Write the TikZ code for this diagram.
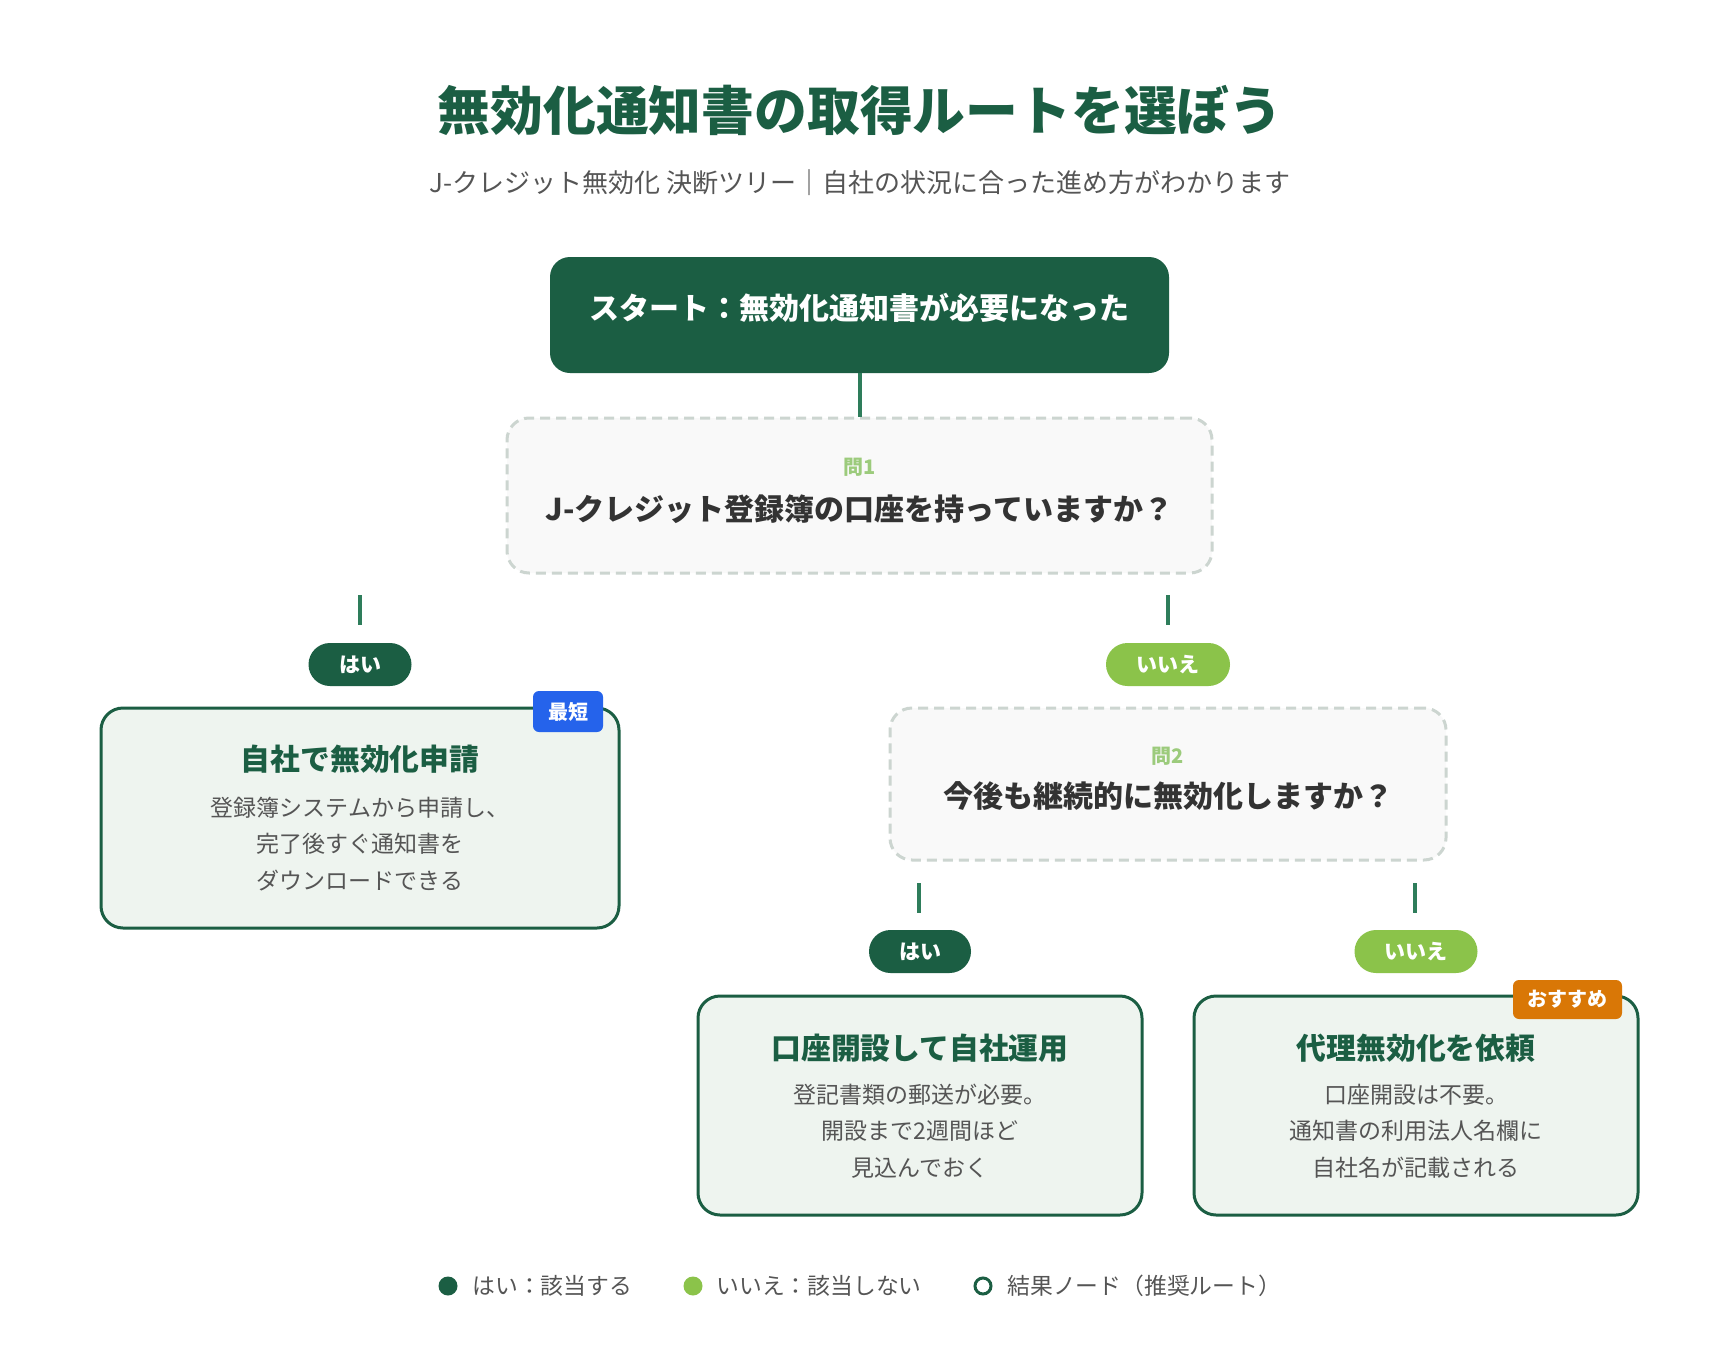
\documentclass[tikz,border=0pt]{standalone}
\usepackage{fontspec}
\setmainfont{Noto Sans CJK JP}
\definecolor{dg}{HTML}{1B5E43}
\definecolor{lg}{HTML}{8BC34A}
\definecolor{conn}{HTML}{2E7D5B}
\definecolor{qlab}{HTML}{9CCB7C}
\definecolor{dashc}{HTML}{CCD5D0}
\definecolor{qfill}{HTML}{F9F9F9}
\definecolor{rfill}{HTML}{EEF4EF}
\definecolor{bodyc}{HTML}{555555}
\definecolor{qtxt}{HTML}{333333}
\definecolor{blueb}{HTML}{2563EB}
\definecolor{orab}{HTML}{D97706}
\tikzset{
  startbox/.style={fill=dg, rounded corners=10pt, minimum width=309.5pt, minimum height=58pt, inner sep=0pt},
  starttxt/.style={text=white, font=\fontsize{15}{18}\selectfont\bfseries, inner sep=0pt},
  qbox/.style={draw=dashc, line width=1.5pt, dash pattern=on 5pt off 3pt, fill=qfill, rounded corners=11pt, inner sep=0pt},
  qlabel/.style={text=qlab, font=\fontsize{10}{12}\selectfont\bfseries, inner sep=0pt},
  qtext/.style={text=qtxt, font=\fontsize{15}{18}\selectfont\bfseries, inner sep=0pt},
  conn/.style={draw=conn, line width=2pt},
  pill/.style={rounded corners=10.75pt, minimum height=21.5pt, inner sep=0pt, text=white, font=\fontsize{10.5}{12}\selectfont\bfseries},
  yespill/.style={pill, fill=dg},
  nopill/.style={pill, fill=lg},
  rbox/.style={draw=dg, line width=1.5pt, fill=rfill, rounded corners=11pt, inner sep=0pt},
  rtitle/.style={text=dg, font=\fontsize{14.9}{18}\selectfont\bfseries, inner sep=0pt},
  rbody/.style={text=bodyc, font=\fontsize{11.5}{18.2}\selectfont, align=center, inner sep=0pt},
  badge/.style={rounded corners=3pt, inner sep=0pt, text=white, font=\fontsize{10}{12}\selectfont\bfseries},
  legtxt/.style={text=bodyc, font=\fontsize{11.4}{13}\selectfont, anchor=west, inner sep=0pt},
}
\begin{document}
\begin{tikzpicture}[x=0.5pt, y=-0.5pt]
\useasboundingbox[fill=white] (0,0) rectangle (1720,1360);

% title
\node[text=dg, font=\fontsize{26.4}{30}\selectfont\bfseries, inner sep=0pt] (title) at (860,110) {無効化通知書の取得ルートを選ぼう};
\node[text=bodyc, font=\fontsize{13}{15}\selectfont, inner sep=0pt] (subtitle) at (860,183) {J-クレジット無効化 決断ツリー｜自社の状況に合った進め方がわかります};

% start
\node[startbox] (start) at (859.5,315) {};
\node[starttxt] (starttext) at ([yshift=3.5pt]start.center) {スタート：無効化通知書が必要になった};

% Q1
\node[qbox, minimum width=352.5pt, minimum height=77.5pt] (q1) at (859.5,495.5) {};
\node[qlabel] (q1lab) at (859.5,467) {問1};
\node[qtext] (q1txt) at (859.5,509) {J-クレジット登録簿の口座を持っていますか？};
\draw[conn] (start.south) -- (q1.north);

% stubs from Q1
\coordinate (s1a) at (360,595); \coordinate (s1b) at (360,625);
\coordinate (s2a) at (1168,595); \coordinate (s2b) at (1168,625);
\draw[conn] (s1a) -- (s1b);
\draw[conn] (s2a) -- (s2b);

% pills level 1
\node[yespill, minimum width=51.5pt] (yes1) at (360,664.5) {はい};
\node[nopill, minimum width=62pt] (no1) at (1168,664.5) {いいえ};

% result 1
\node[rbox, minimum width=259pt, minimum height=110pt] (r1) at (360,818) {};
\node[badge, fill=blueb, minimum width=35pt, minimum height=20.5pt] (b1) at (568,711.5) {最短};
\node[rtitle] (r1t) at (360,759) {自社で無効化申請};
\node[rbody] (r1b) at (360,844) {登録簿システムから申請し、\\完了後すぐ通知書を\\ダウンロードできる};

% Q2
\node[qbox, minimum width=278pt, minimum height=76pt] (q2) at (1168,784) {};
\node[qlabel] (q2lab) at (1168,756) {問2};
\node[qtext] (q2txt) at (1168,796) {今後も継続的に無効化しますか？};

% stubs from Q2
\coordinate (s3a) at (919,883); \coordinate (s3b) at (919,913);
\coordinate (s4a) at (1415,883); \coordinate (s4b) at (1415,913);
\draw[conn] (s3a) -- (s3b);
\draw[conn] (s4a) -- (s4b);

% pills level 2
\node[yespill, minimum width=51pt] (yes2) at (920,951.5) {はい};
\node[nopill, minimum width=61.5pt] (no2) at (1416,951.5) {いいえ};

% result 2
\node[rbox, minimum width=222pt, minimum height=109.5pt] (r2) at (920,1105.5) {};
\node[rtitle] (r2t) at (920,1048) {口座開設して自社運用};
\node[rbody] (r2b) at (920,1131) {登記書類の郵送が必要。\\開設まで2週間ほど\\見込んでおく};

% result 3
\node[rbox, minimum width=222pt, minimum height=109.5pt] (r3) at (1416,1105.5) {};
\node[badge, fill=orab, minimum width=54.5pt, minimum height=19.5pt] (b3) at (1567.5,999.5) {おすすめ};
\node[rtitle] (r3t) at (1416,1048) {代理無効化を依頼};
\node[rbody] (r3b) at (1416,1131) {口座開設は不要。\\通知書の利用法人名欄に\\自社名が記載される};

% legend
\node[circle, fill=dg, minimum size=9.5pt, inner sep=0pt] (ld1) at (448,1286) {};
\node[legtxt] (lt1) at (472,1286) {はい：該当する};
\node[circle, fill=lg, minimum size=9.5pt, inner sep=0pt] (ld2) at (693,1286) {};
\node[legtxt] (lt2) at (716,1286) {いいえ：該当しない};
\node[circle, draw=dg, line width=1.5pt, fill=white, minimum size=8pt, inner sep=0pt] (ld3) at (983,1286) {};
\node[legtxt] (lt3) at (1007,1286) {結果ノード（推奨ルート）};
\end{tikzpicture}
\end{document}
